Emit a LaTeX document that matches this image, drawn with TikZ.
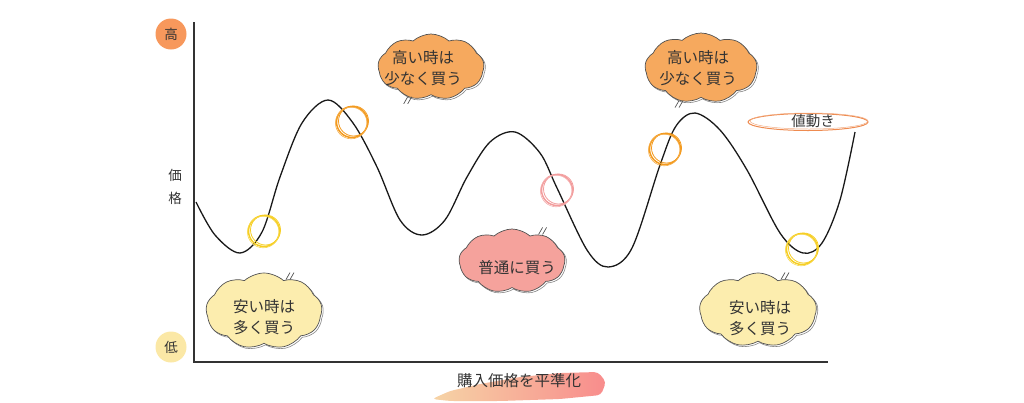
\documentclass[tikz,border=0pt]{standalone}
\usepackage{fontspec}
\newfontfamily\jp{Noto Sans CJK JP}
\usetikzlibrary{shapes.symbols}
\definecolor{ink}{HTML}{333333}
\definecolor{orfill}{HTML}{F6A95E}
\definecolor{yefill}{HTML}{FCEDAE}
\definecolor{pkfill}{HTML}{F5A29C}
\definecolor{hicol}{HTML}{F7985C}
\definecolor{locol}{HTML}{FBE8A6}
\definecolor{ringy}{HTML}{F6CE22}
\definecolor{ringo}{HTML}{F39A1E}
\definecolor{ringp}{HTML}{F29C9C}
\definecolor{ellc}{HTML}{EE8B50}
\definecolor{brushl}{HTML}{F6D4A6}
\definecolor{brushr}{HTML}{F88C8C}
\tikzset{
  bubble/.style={cloud, cloud puffs=9, cloud puff arc=85, draw=ink!85, line width=0.7pt, inner sep=0pt},
  bshadow/.style={cloud, cloud puffs=9, cloud puff arc=85, draw=ink!60, line width=0.6pt, inner sep=0pt},
  btext/.style={font=\jp\fontsize{15.5}{21.5}\selectfont, text=ink, align=center, inner sep=0pt},
  axtext/.style={font=\jp\fontsize{13.5}{16}\selectfont, text=ink, inner sep=0pt},
  ring/.style={line width=1.5pt},
  tail/.style={draw=ink!85, line width=0.7pt},
}
\begin{document}
\begin{tikzpicture}[x=1pt,y=-1pt]
\useasboundingbox (0,0) rectangle (1024,402);
% axes
\coordinate (top) at (194,22);
\coordinate (origin) at (194,362);
\coordinate (right) at (828,362);
\draw[ink, line width=1.8pt] (top) -- (origin) -- (right);
% high/low markers
\node[circle, fill=hicol, minimum size=31pt, inner sep=0pt] (hi) at (171,34) {};
\node[axtext] (hit) at (hi) {高};
\node[circle, fill=locol, minimum size=31pt, inner sep=0pt] (lo) at (171,347) {};
\node[axtext] (lot) at (lo) {低};
\node[axtext] (ylab1) at (175,175) {価};
\node[axtext] (ylab2) at (175,198) {格};
% brush stroke and x label
\shade[left color=brushl, right color=brushr, rounded corners=4pt]
  (432,399) -- (450,391) -- (480,384) -- (520,377) -- (560,373) -- (598,372)
  -- (606,382) -- (601,395) -- (560,399) -- (500,401) -- (450,401) -- cycle;
\node[axtext, font=\jp\fontsize{15.5}{18}\selectfont] (xlab) at (519,381) {購入価格を平準化};
% price curve
\draw[black!90, line width=1.3pt] plot[smooth, tension=0.55] coordinates {
 (196,202) (215,235) (240,253) (262,232) (280,177) (302,123) (328,100) (353,123)
 (377,167) (400,220) (422,235) (445,220) (467,177) (490,142) (515,132) (540,153)
 (557,188) (587,250) (608,267) (632,248) (660,165) (676,126) (695,113) (720,130)
 (747,170) (780,233) (803,253) (822,243) (840,200) (855,132)};
% rings
\foreach \cx/\cy/\col in {264/231/ringy, 352/122/ringo, 557/190/ringp, 665/149/ringo, 802/249/ringy}{
  \draw[ring, \col] (\cx,\cy) circle (15.5);
  \draw[\col, line width=0.8pt] (\cx+1.5,\cy-1) circle (15);
  \draw[\col!80, line width=0.6pt] (\cx-0.8,\cy+1) circle (15.8);
}
% value-movement label
\draw[ellc, line width=1pt] (808,122) ellipse (60 and 8.5);
\draw[ellc!70, line width=0.5pt] (809,121) ellipse (59 and 8);
\node[btext, font=\jp\fontsize{14.5}{17}\selectfont] (vlab) at (813,121) {値動き};
% bubbles
\foreach \nm/\cx/\cy/\w/\h/\col in {b1/431/67/106/66/orfill, b2/701/68/112/70/orfill, b3/264/311/116/76/yefill, b4/512/261/106/64/pkfill, b5/758/310/117/74/yefill}{
  \node[bshadow, minimum width=\w pt, minimum height=\h pt] at (\cx+1.5,\cy+1.5) {};
  \node[bubble, fill=\col, minimum width=\w pt, minimum height=\h pt] (\nm) at (\cx,\cy) {};
}
\node[btext] (t1) at (423,68) {高い時は\\少なく買う};
\node[btext] (t2) at (698,68) {高い時は\\少なく買う};
\node[btext] (t3) at (264,317) {安い時は\\多く買う};
\node[btext] (t4) at (517,268) {普通に買う};
\node[btext] (t5) at (760,318) {安い時は\\多く買う};
% tails
\foreach \nm/\ang/\dx/\dy in {b1/232/-4/7, b2/236/-4/7, b3/55/4/-7, b4/45/4/-7, b5/53/4/-7}{
  \draw[tail] (\nm.\ang) -- ++(\dx,\dy);
  \draw[tail] ([xshift=4pt]\nm.\ang) -- ++(\dx,\dy);
}
\end{tikzpicture}
\end{document}
